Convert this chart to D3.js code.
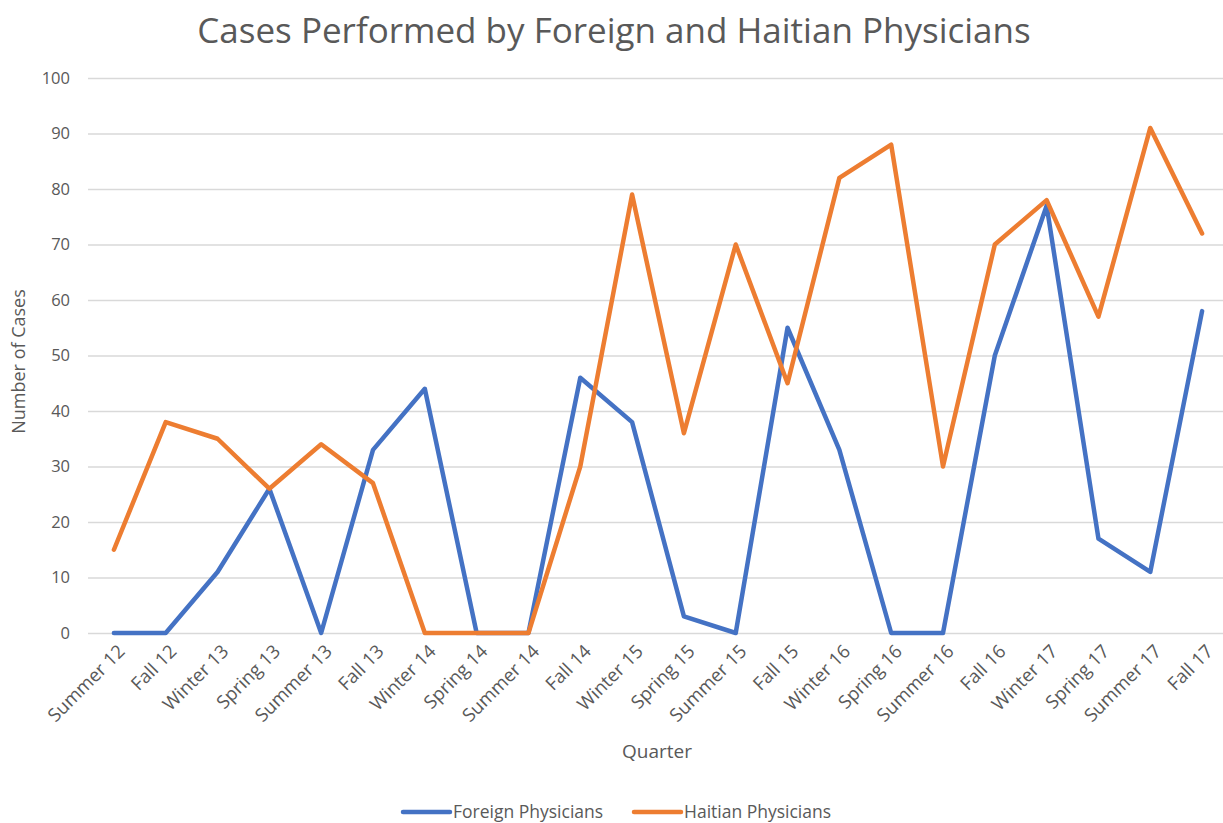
<!DOCTYPE html>
<html>
<head>
<meta charset="utf-8">
<script src="https://cdn.jsdelivr.net/npm/d3@7"></script>
<style>
  body { margin: 0; background: #fff; }
  text { font-family: "Open Sans", "Noto Sans", sans-serif; fill: #595959; }
</style>
</head>
<body>
<script>
// chart data
var quarters = ["Summer 12", "Fall 12", "Winter 13", "Spring 13", "Summer 13", "Fall 13",
  "Winter 14", "Spring 14", "Summer 14", "Fall 14", "Winter 15", "Spring 15", "Summer 15",
  "Fall 15", "Winter 16", "Spring 16", "Summer 16", "Fall 16", "Winter 17", "Spring 17",
  "Summer 17", "Fall 17"];
var foreignCases = [0, 0, 11, 26, 0, 33, 44, 0, 0, 46, 38, 3, 0, 55, 33, 0, 0, 50, 77, 17, 11, 58];
var haitianCases = [15, 38, 35, 26, 34, 27, 0, 0, 0, 30, 79, 36, 70, 45, 82, 88, 30, 70, 78, 57, 91, 72];
var yTicks = [0, 10, 20, 30, 40, 50, 60, 70, 80, 90, 100];
var seriesNames = ["Foreign Physicians", "Haitian Physicians"];

var svgWidth = 1223;
var svgHeight = 823;

var margin = { top: 78, right: -5, bottom: 190, left: 88 };
var chartWidth = svgWidth - margin.left - margin.right;
var chartHeight = svgHeight - margin.top - margin.bottom;

var svg = d3.select("body")
  .append("svg")
  .attr("width", svgWidth)
  .attr("height", svgHeight);

var chartGroup = svg.append("g")
  .attr("transform", `translate(${margin.left}, ${margin.top})`);

var xScale = d3.scalePoint()
  .domain(quarters)
  .range([0, chartWidth])
  .padding(0.5);

var yScale = d3.scaleLinear()
  .domain([0, 100])
  .range([chartHeight, 0]);

// gridlines + y labels
var leftAxis = d3.axisLeft(yScale)
  .tickValues(yTicks)
  .tickSize(-chartWidth)
  .tickPadding(18);

var yAxisG = chartGroup.append("g").call(leftAxis);
yAxisG.select(".domain").remove();
yAxisG.selectAll("line").attr("stroke", "#d9d9d9").attr("stroke-width", 1.5);
yAxisG.selectAll("text")
  .style("font-size", "16.5px")
  .attr("fill", "#595959");

// x labels
var bottomAxis = d3.axisBottom(xScale).tickSize(0).tickPadding(0);
var xAxisG = chartGroup.append("g")
  .attr("transform", `translate(0, ${chartHeight})`)
  .call(bottomAxis);
xAxisG.select(".domain").remove();
xAxisG.selectAll("text")
  .style("font-size", "18.5px")
  .attr("fill", "#595959")
  .attr("text-anchor", "end")
  .attr("dy", "0.35em")
  .attr("transform", "translate(7, 15) rotate(-45)");

// lines
var colors = ["#4472C4", "#ED7D31"];
var allSeries = [foreignCases, haitianCases];

var drawLine = d3.line()
  .x((d, i) => xScale(quarters[i]))
  .y(d => yScale(d));

allSeries.forEach(function(vals, k) {
  chartGroup.append("path")
    .attr("d", drawLine(vals))
    .attr("fill", "none")
    .attr("stroke", colors[k])
    .attr("stroke-width", 4.5)
    .attr("stroke-linejoin", "round")
    .attr("stroke-linecap", "round");
});

// title
svg.append("text")
  .attr("x", 614)
  .attr("y", 43)
  .attr("text-anchor", "middle")
  .style("font-size", "35px")
  .text("Cases Performed by Foreign and Haitian Physicians");

// axis titles
svg.append("text")
  .attr("transform", `translate(25, ${margin.top + chartHeight / 2 + 6}) rotate(-90)`)
  .attr("text-anchor", "middle")
  .style("font-size", "18px")
  .text("Number of Cases");

svg.append("text")
  .attr("x", 657)
  .attr("y", 758)
  .attr("text-anchor", "middle")
  .style("font-size", "19px")
  .text("Quarter");

// legend
var legendX = [403, 634];
seriesNames.forEach(function(name, k) {
  var g = svg.append("g").attr("transform", `translate(${legendX[k]}, 812)`);
  g.append("line")
    .attr("x1", 0).attr("x2", 47)
    .attr("y1", 0).attr("y2", 0)
    .attr("stroke", colors[k])
    .attr("stroke-width", 4.5)
    .attr("stroke-linecap", "round");
  g.append("text")
    .attr("x", 50)
    .attr("y", 0)
    .attr("dy", "0.35em")
    .style("font-size", "17.5px")
    .text(name);
});
</script>
</body>
</html>
